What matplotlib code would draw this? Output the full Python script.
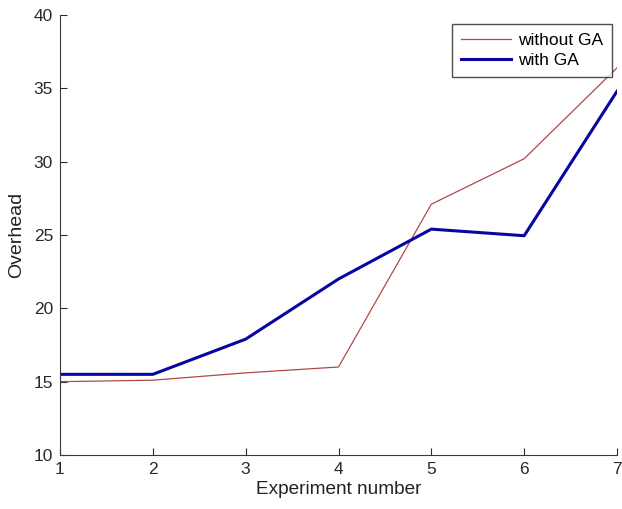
import matplotlib
matplotlib.use("Agg")
import matplotlib.pyplot as plt

plt.rcParams['font.family'] = ['Liberation Sans', 'DejaVu Sans']

# overhead per experiment run
experiments = [1, 2, 3, 4, 5, 6, 7]
without_ga = [15.0, 15.1, 15.6, 16.0, 27.1, 30.2, 36.4]
with_ga = [15.5, 15.5, 17.9, 22.0, 25.4, 24.95, 34.8]

fig = plt.figure(figsize=(6.22, 5.09), dpi=100)
ax = fig.add_axes([60 / 622, 1 - 455 / 509, 557 / 622, 440 / 509])

ax.plot(experiments, without_ga, color='#b04848', linewidth=0.9, label='without GA')
ax.plot(experiments, with_ga, color='#0606a0', linewidth=2.2, label='with GA')

ax.set_xlim(1, 7)
ax.set_ylim(10, 40)
ax.set_xticks(experiments)
ax.set_yticks([10, 15, 20, 25, 30, 35, 40])
ax.tick_params(direction='in', length=5, labelsize=12.5, colors='#2a2a2a', pad=5)
for side in ['top', 'right']:
    ax.spines[side].set_visible(False)
for side in ['left', 'bottom']:
    ax.spines[side].set_color('#3a3a3a')

ax.set_xlabel('Experiment number', fontsize=13.7, color='#222222', labelpad=3)
ax.set_ylabel('Overhead', fontsize=14, color='#222222', labelpad=6)

leg = ax.legend(loc='upper right', bbox_to_anchor=(612 / 622, 1 - 24 / 509),
                bbox_transform=fig.transFigure, fontsize=12.5, frameon=True,
                fancybox=False, handlelength=2.9, handletextpad=0.4,
                borderaxespad=0, borderpad=0.5, labelspacing=0.3)
leg.get_frame().set_edgecolor('#222222')
leg.get_frame().set_linewidth(1.0)

fig.savefig('out.png', dpi=100)
